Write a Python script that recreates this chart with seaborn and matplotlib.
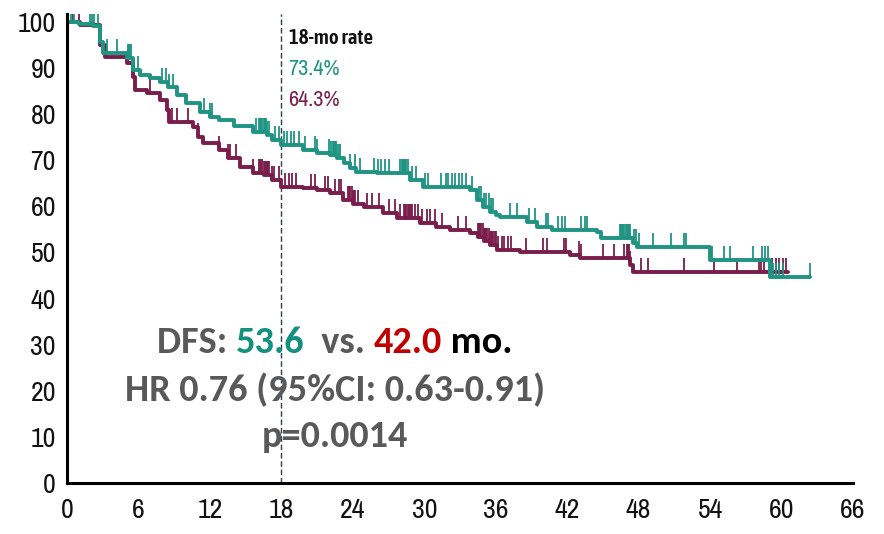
import numpy as np
import pandas as pd
import matplotlib
matplotlib.use("Agg")
import matplotlib.pyplot as plt
import seaborn as sns

# ---------------- data ----------------
teal_t = [0, 1.0, 2.2, 2.8, 3.0, 5.0, 5.5, 6.1, 7.0, 7.8, 8.5, 9.2, 10.0, 11.2, 12.0,
          12.8, 14.0, 15.6, 16.8, 17.2, 18.0, 19.8, 21.0, 22.1, 22.7, 23.3, 23.8, 24.3,
          26.0, 28.2, 28.8, 29.9, 33.8, 34.4, 34.9, 35.5, 36.0, 36.4, 38.6, 39.5, 40.7,
          44.5, 44.8, 47.5, 47.9, 54.0, 59.0]
teal_s = [100, 99.5, 99.1, 95.6, 93.3, 92.2, 89.6, 88.5, 87.8, 87.0, 85.8, 84.2, 82.5, 80.5, 79.5,
          78.7, 77.5, 76.1, 75.5, 74.5, 73.4, 72.2, 71.6, 71.1, 70.5, 69.4, 68.3, 67.5,
          67.3, 67.2, 65.7, 64.2, 63.6, 61.4, 59.9, 58.8, 58.2, 57.7, 56.6, 55.5, 54.9,
          54.4, 53.1, 52.1, 51.2, 48.4, 44.7]
teal_end = 62.4

maroon_t = [0, 1.1, 2.8, 3.2, 5.0, 5.5, 5.7, 6.7, 7.8, 8.4, 8.6, 10.6, 11.0, 11.4, 12.8,
            13.5, 14.5, 15.6, 16.5, 17.2, 18.0, 19.8, 21.0, 22.1, 23.2, 24.0, 24.9, 26.5,
            27.7, 29.6, 31.0, 32.2, 33.8, 34.5, 35.0, 35.5, 36.1, 38.0, 42.2, 43.1, 47.3, 47.5]
maroon_s = [100, 99.4, 95.0, 92.4, 91.1, 88.1, 85.2, 84.6, 83.0, 80.9, 78.3, 77.2, 75.0, 73.7, 72.2,
            70.5, 68.5, 67.2, 66.8, 65.8, 64.3, 64.0, 63.5, 62.9, 61.4, 60.6, 59.9, 58.6,
            57.5, 56.4, 55.6, 54.9, 54.2, 53.3, 52.4, 51.6, 50.5, 50.1, 49.5, 48.8, 47.3, 45.8]
maroon_end = 60.5

teal_cens = [0.3, 0.6, 1.9, 2.1, 2.3, 2.6, 3.4, 4.2, 5.1, 5.2, 5.3, 5.4, 6.0, 8.0, 8.3, 8.6, 8.9,
             11.5, 12.0, 12.2, 15.9, 16.1, 16.2, 16.3, 16.4, 16.5, 16.6, 16.7, 16.8, 17.0,
             17.5, 17.8, 18.2, 18.5, 18.8, 19.1, 19.5, 20.0, 20.8, 21.0, 22.0, 22.2, 22.3,
             22.4, 22.5, 22.6, 22.7, 22.8, 22.9, 23.8, 24.2, 24.6, 25.8, 26.1, 26.4, 26.7,
             27.0, 28.0, 28.1, 28.2, 28.3, 28.4, 28.5, 28.6, 29.0, 29.3, 30.1, 30.3, 31.4,
             31.8, 32.0, 32.3, 32.6, 32.9, 33.2, 33.5, 34.0, 34.6, 34.8, 35.0, 35.2, 35.4,
             35.6, 35.8, 37.2, 37.8, 38.8, 39.3, 40.2, 40.4, 41.2, 41.6, 41.8, 43.2, 43.5,
             43.7, 46.4, 46.5, 46.6, 46.7, 46.8, 46.9, 47.0, 47.1, 47.2, 47.3, 47.6, 47.8,
             48.0, 49.2, 50.7, 51.8, 52.0, 54.2, 55.2, 55.7, 57.6, 58.4, 58.6, 58.9, 59.1,
             59.3, 59.5, 59.8, 60.1, 62.4]
maroon_cens = [0.5, 1.0, 5.1, 5.5, 7.0, 8.6, 8.8, 9.2, 10.2, 11.0, 12.8, 13.5, 13.7, 14.2, 15.6,
               16.1, 16.2, 16.3, 16.4, 16.5, 16.6, 16.7, 16.8, 16.9, 17.0, 17.2, 17.4, 17.8,
               18.3, 18.6, 18.9, 19.2, 20.5, 20.8, 21.7, 21.9, 22.5, 22.8, 23.0, 23.6, 23.7,
               23.8, 23.9, 24.0, 24.1, 24.2, 24.4, 25.2, 25.6, 26.2, 27.0, 27.5, 28.0, 28.3,
               28.4, 28.5, 28.6, 28.7, 28.8, 28.9, 29.0, 29.2, 29.5, 29.8, 30.2, 30.5, 30.9,
               31.5, 32.8, 33.5, 34.5, 34.6, 34.7, 34.8, 34.9, 35.0, 35.1, 35.2, 35.3, 35.4,
               35.5, 35.6, 35.7, 35.8, 35.9, 36.0, 36.2, 36.5, 36.7, 37.0, 37.3, 38.5, 40.0,
               40.3, 41.7, 41.9, 43.0, 43.2, 45.0, 45.9, 46.8, 47.0, 47.1, 47.2, 47.3, 48.2,
               48.8, 51.8, 54.3, 56.3, 58.1, 58.3, 58.5, 59.2, 59.5, 59.8, 60.1, 60.4]

x_ticks = [0, 6, 12, 18, 24, 30, 36, 42, 48, 54, 60, 66]
y_ticks = [0, 10, 20, 30, 40, 50, 60, 70, 80, 90, 100]

TEAL = "#1f9483"
MAROON = "#7a1d4c"
GRAY = "#595959"
RED = "#c00000"
TEAL_TXT = "#14907e"

# ---------------- figure ----------------
sns.set_style("white")
narrow = ["Archivo Narrow", "Liberation Sans Narrow", "DejaVu Sans"]
narrow_bold = ["Asap Condensed", "Archivo Narrow", "DejaVu Sans"]
plt.rcParams["font.family"] = narrow

fig = plt.figure(figsize=(8.84, 5.34), dpi=100)
ax = fig.add_axes([67 / 884, (534 - 483) / 534, (853 - 67) / 884, (483 - 14) / 534])
ax.set_xlim(0, 66)
ax.set_ylim(0, (483 - 14) / 4.61)


def step_at(t, s, c):
    t = np.asarray(t); s = np.asarray(s)
    idx = np.searchsorted(t, np.asarray(c), side="right") - 1
    return s[idx]


for t, s, end, cens, col in [(maroon_t, maroon_s, maroon_end, maroon_cens, MAROON),
                             (teal_t, teal_s, teal_end, teal_cens, TEAL)]:
    df = pd.DataFrame({"month": list(t) + [end], "surv": list(s) + [s[-1]]})
    sns.lineplot(data=df, x="month", y="surv", drawstyle="steps-post", estimator=None,
                 sort=False, color=col, lw=2.8, ax=ax)
    yc = step_at(t, s, cens)
    ax.vlines(cens, yc, yc + 3.0, color=col, lw=1.3)

ax.axvline(18, color="#2e3d5c", lw=1.0, ls=(0, (4, 2)), zorder=1)

ax.set_xticks(x_ticks)
ax.set_yticks(y_ticks)
ax.set_xticklabels([str(v) for v in x_ticks])
ax.set_yticklabels([str(v) for v in y_ticks])
ax.tick_params(axis="both", direction="out", length=7, width=2, color="black",
               labelsize=20, labelcolor="#111111", pad=4)
ax.tick_params(axis="y", pad=1)
for side in ["top", "right"]:
    ax.spines[side].set_visible(False)
for side in ["left", "bottom"]:
    ax.spines[side].set_linewidth(2.2)
    ax.spines[side].set_color("black")
ax.set_xlabel("")
ax.set_ylabel("")
ax.grid(False)

# 18-month rate labels
ax.text(18.6, 96.5, "18-mo rate", fontsize=15, color="#111111", fontweight="semibold",
        va="center", ha="left", family=narrow_bold)
ax.text(18.6, 89.8, "73.4%", fontsize=16, color=TEAL, va="center", ha="left", family=narrow)
ax.text(18.6, 83.1, "64.3%", fontsize=16, color=MAROON, va="center", ha="left", family=narrow)

# annotation block
bold = dict(fontsize=27.5, fontweight="bold", family=["Carlito", "Lato", "DejaVu Sans"])
pieces = [("DFS: ", GRAY), ("53.6", TEAL_TXT), ("  vs. ", GRAY), ("42.0", RED), (" mo.", "black")]
prev = ax.text(7.55, 30.4, pieces[0][0], color=pieces[0][1], va="center", ha="left", **bold)
for txt, col in pieces[1:]:
    prev = ax.annotate(txt, xy=(1, 0), xycoords=prev, va="bottom", ha="left", color=col, **bold)
ax.text(22.5, 20.2, "HR 0.76 (95%CI: 0.63-0.91)", color=GRAY, va="center", ha="center", **bold)
ax.text(22.5, 10.0, "p=0.0014", color=GRAY, va="center", ha="center", **bold)

fig.savefig("out.png", dpi=100)
